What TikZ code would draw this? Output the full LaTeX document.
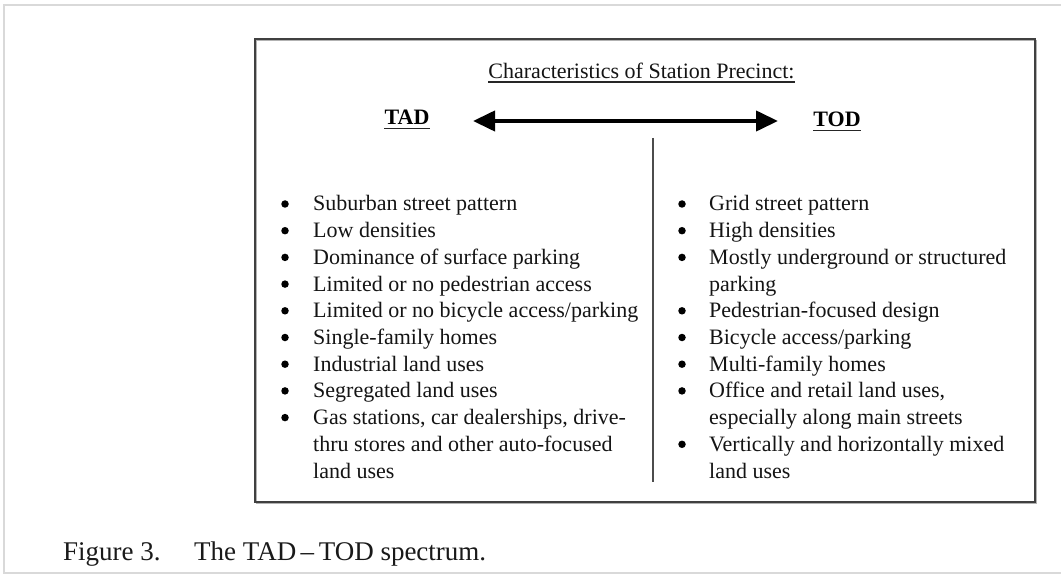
\documentclass[tikz,border=0pt]{standalone}
\usepackage{fontspec}
\setmainfont{Liberation Serif}
\usetikzlibrary{arrows.meta}
\begin{document}
\begin{tikzpicture}[x=1pt,y=-1pt,
  txt/.style={inner sep=0pt, anchor=base west, font=\fontsize{22}{26.7}\selectfont, text=black!92},
  hd/.style={inner sep=0pt, anchor=base, font=\fontsize{22}{26.7}\selectfont\bfseries, text=black},
  ttl/.style={inner sep=0pt, anchor=base, font=\fontsize{22}{26.7}\selectfont, text=black!92},
  figcap/.style={inner sep=0pt, anchor=base west, font=\fontsize{27}{30}\selectfont, text=black!90},
  bul/.style={circle, fill=black, inner sep=0pt, minimum size=7.5pt},
  uline/.style={line width=1.8pt, black!85},
  spec/.style={line width=4pt, black, {Triangle[length=22pt,width=20pt]}-{Triangle[length=22pt,width=20pt]}},
  divider/.style={black!70, line width=2pt},
]
\useasboundingbox (0,0) rectangle (1061,575);
\fill[white] (0,0) rectangle (1061,575);
% outer light frame
\draw[black!15, line width=2pt] (1061,5) -- (4,5) -- (4,573) -- (1061,573);
% main box with slight shadow
\draw[black!30, line width=1.5pt] (256.5,40.5) rectangle (1036.5,503.5);
\draw[black!75, line width=2.2pt] (255,39) rectangle (1035,502);
% title and headings
\node[ttl] (title) at (641.5,79) {Characteristics of Station Precinct:};
\draw[uline] ([yshift=-3pt]title.base west) -- ([yshift=-3pt]title.base east);
\node[hd] (tad) at (407,125) {TAD};
\draw[uline] ([yshift=-3.5pt]tad.base west) -- ([yshift=-3.5pt]tad.base east);
\node[hd] (tod) at (837,127) {TOD};
\draw[uline] ([yshift=-3.5pt]tod.base west) -- ([yshift=-3.5pt]tod.base east);
% double arrow
\coordinate (al) at (473,121);
\coordinate (ar) at (778,121);
\draw[spec] (al) -- (ar);
% divider
\coordinate (dt) at (653,138);
\coordinate (db) at (653,482);
\draw[divider] (dt) -- (db);
% left list
\foreach \k/\t in {0/{Suburban street pattern},1/{Low densities},2/{Dominance of surface parking},3/{Limited or no pedestrian access},4/{Limited or no bicycle access/parking},5/{Single-family homes},6/{Industrial land uses},7/{Segregated land uses},8/{Gas stations, car dealerships, drive-},9/{thru stores and other auto-focused},10/{land uses}}
  \node[txt] (l\k) at (313,{211+26.7*\k}) {\t};
\foreach \k in {0,...,8}
  \node[bul] (lb\k) at (285,{204+26.7*\k}) {};
% right list
\foreach \k/\t in {0/{Grid street pattern},1/{High densities},2/{Mostly underground or structured},3/{parking},4/{Pedestrian-focused design},5/{Bicycle access/parking},6/{Multi-family homes},7/{Office and retail land uses,},8/{especially along main streets},9/{Vertically and horizontally mixed},10/{land uses}}
  \node[txt] (r\k) at (709,{211+26.7*\k}) {\t};
\foreach \k in {0,1,2,4,5,6,7,9}
  \node[bul] (rb\k) at (682,{204+26.7*\k}) {};
% caption
\node[figcap] (fig) at (63,560) {Figure 3.};
\node[figcap] (figt) at (194,560) {The TAD\,–\,TOD spectrum.};
\end{tikzpicture}
\end{document}
